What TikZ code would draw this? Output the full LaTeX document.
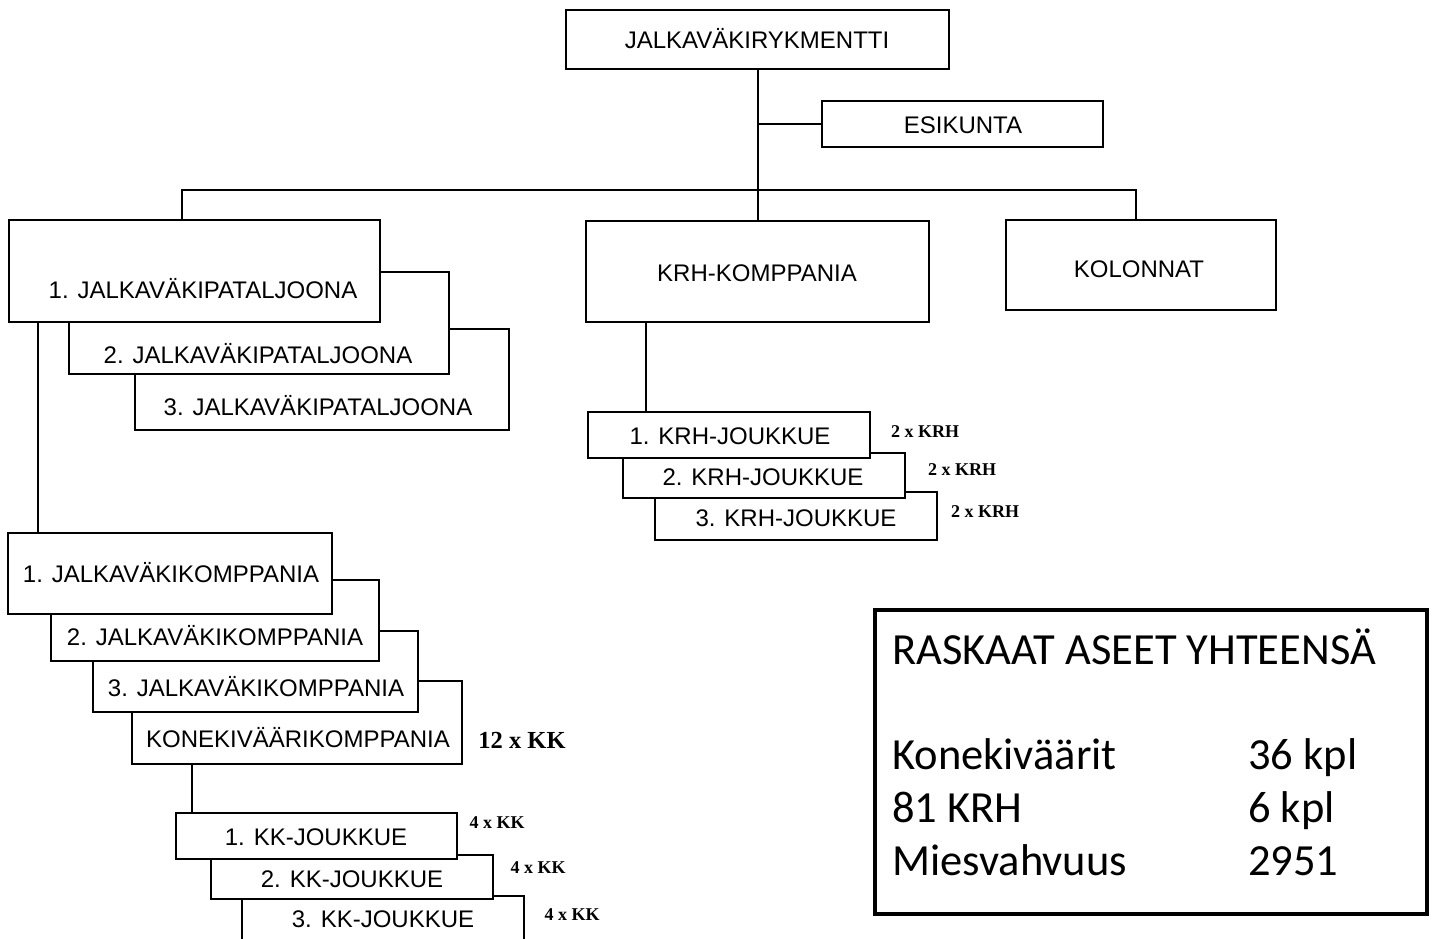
\documentclass[tikz,border=0pt]{standalone}
\usepackage{fontspec}
\setmainfont{Liberation Sans}
\newfontfamily\notefont{Liberation Serif}
\newfontfamily\sumfont{Carlito}
\begin{document}
\begin{tikzpicture}[x=1pt,y=-1pt,
  box/.style={draw=black, line width=2pt, fill=white, rectangle, inner sep=0pt},
  txt/.style={inner sep=0pt, text height=17pt, text depth=0pt, font=\fontsize{24}{28}\selectfont},
  note/.style={inner sep=0pt, font=\notefont\bfseries\fontsize{18}{20}\selectfont},
  bignote/.style={inner sep=0pt, font=\notefont\bfseries\fontsize{24.5}{26}\selectfont},
  sumtxt/.style={inner sep=0pt, anchor=base west, font=\sumfont\fontsize{44.5}{50}\selectfont},
  link/.style={draw=black, line width=2pt}]
\useasboundingbox (0,0) rectangle (1434,938);
\clip (0,0) rectangle (1434,938);

% regiment and staff
\node[box, minimum width=383pt, minimum height=59pt] (reg) at (757.5,39.5) {};
\node[txt] (regt) at (757,40) {JALKAVÄKIRYKMENTTI};
\node[box, minimum width=281pt, minimum height=46pt] (esi) at (962.5,124) {};
\node[txt] (esit) at (963,125) {ESIKUNTA};

% battalions (stacked, back to front)
\node[box, minimum width=374pt, minimum height=101pt] (bat3) at (322,379.5) {};
\node[txt] (bat3t) at (318,407) {3. JALKAVÄKIPATALJOONA};
\node[box, minimum width=380pt, minimum height=102pt] (bat2) at (259,323) {};
\node[txt] (bat2t) at (258,355) {2. JALKAVÄKIPATALJOONA};
\node[box, minimum width=371pt, minimum height=102pt] (bat1) at (194.5,271) {};
\node[txt] (bat1t) at (203,290) {1. JALKAVÄKIPATALJOONA};

% mortar company and columns
\node[box, minimum width=343pt, minimum height=101pt] (krh) at (757.5,271.5) {};
\node[txt] (krht) at (757,273) {KRH-KOMPPANIA};
\node[box, minimum width=270pt, minimum height=90pt] (kol) at (1141,265) {};
\node[txt] (kolt) at (1139,269) {KOLONNAT};

% mortar platoons
\node[box, minimum width=282pt, minimum height=48pt] (kr3) at (796,516) {};
\node[txt] (kr3t) at (796,518) {3. KRH-JOUKKUE};
\node[box, minimum width=282pt, minimum height=45pt] (kr2) at (764,475.5) {};
\node[txt] (kr2t) at (763,477) {2. KRH-JOUKKUE};
\node[box, minimum width=282pt, minimum height=46pt] (kr1) at (729,435) {};
\node[txt] (kr1t) at (730,436) {1. KRH-JOUKKUE};
\node[note] (kr1n) at (925,432) {2 x KRH};
\node[note] (kr2n) at (962,470) {2 x KRH};
\node[note] (kr3n) at (985,512) {2 x KRH};

% companies (stacked, back to front)
\node[box, minimum width=330pt, minimum height=83pt] (kkk) at (297,722.5) {};
\node[txt] (kkkt) at (298,739) {KONEKIVÄÄRIKOMPPANIA};
\node[box, minimum width=325pt, minimum height=81pt] (jk3) at (255.5,671.5) {};
\node[txt] (jk3t) at (256,688) {3. JALKAVÄKIKOMPPANIA};
\node[box, minimum width=328pt, minimum height=81pt] (jk2) at (215,620.5) {};
\node[txt] (jk2t) at (215,637) {2. JALKAVÄKIKOMPPANIA};
\node[box, minimum width=324pt, minimum height=81pt] (jk1) at (170,573.5) {};
\node[txt] (jk1t) at (171,574) {1. JALKAVÄKIKOMPPANIA};
\node[bignote] (kkkn) at (522,740) {12 x KK};

% machine-gun platoons
\node[box, minimum width=282pt, minimum height=64pt] (kj3) at (383,928) {};
\node[txt] (kj3t) at (383,919) {3. KK-JOUKKUE};
\node[box, minimum width=282pt, minimum height=44pt] (kj2) at (352,877) {};
\node[txt] (kj2t) at (352,879) {2. KK-JOUKKUE};
\node[box, minimum width=281pt, minimum height=46pt] (kj1) at (316.5,836) {};
\node[txt] (kj1t) at (316,837) {1. KK-JOUKKUE};
\node[note] (kj1n) at (497,823) {4 x KK};
\node[note] (kj2n) at (538,868) {4 x KK};
\node[note] (kj3n) at (572,915) {4 x KK};

% connectors
\coordinate (busL) at (182,190);
\coordinate (busR) at (1136,190);
\draw[link] (reg.south) -- (krh.north);
\draw[link] (reg.south |- esi.west) -- (esi.west);
\draw[link] (busL |- bat1.north) -- (busL) -- (busR) -- (busR |- kol.north);
\draw[link] ([xshift=30pt]bat1.south west) -- ([xshift=31pt]jk1.north west);
\draw[link] ([xshift=61pt]kkk.south west) -- ([xshift=17pt]kj1.north west);
\draw[link] ([xshift=61pt]krh.south west) -- ([xshift=59pt]kr1.north west);

% totals
\node[draw=black, line width=3.5pt, minimum width=552pt, minimum height=304pt, inner sep=0pt] (sum) at (1151,762) {};
\node[sumtxt] (sumh) at (892,664) {RASKAAT ASEET YHTEENSÄ};
\node[sumtxt] (sum1) at (892,769) {Konekiväärit};
\node[sumtxt] (sum2) at (892,822) {81 KRH};
\node[sumtxt] (sum3) at (892,875) {Miesvahvuus};
\node[sumtxt] (val1) at (1248,769) {36 kpl};
\node[sumtxt] (val2) at (1248,822) {6 kpl};
\node[sumtxt] (val3) at (1248,875) {2951};
\end{tikzpicture}
\end{document}
